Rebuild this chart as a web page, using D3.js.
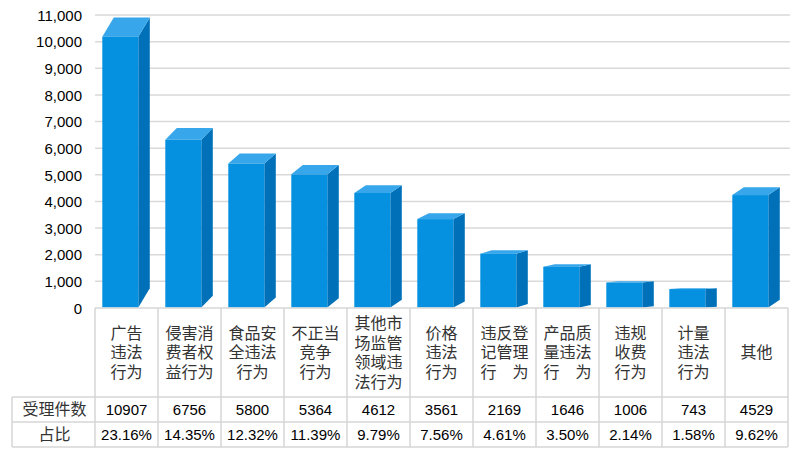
<!DOCTYPE html>
<html><head><meta charset="utf-8">
<script src="https://cdn.jsdelivr.net/npm/d3@7"></script>
<style>
html,body{margin:0;padding:0;background:#fff;}
svg{display:block;}
.cat{width:100%;height:100%;display:flex;align-items:center;justify-content:center;text-align:center;}
.cat span{font-family:'Noto Sans CJK SC','Noto Sans',sans-serif;font-size:16px;line-height:19.5px;color:#333;white-space:pre;}
</style></head>
<body>
<svg id="chart" width="800" height="458"></svg>
<script>
// ---- data ----
const categories = [
  ["广告","违法","行为"],
  ["侵害消","费者权","益行为"],
  ["食品安","全违法","行为"],
  ["不正当","竞争","行为"],
  ["其他市","场监管","领域违","法行为"],
  ["价格","违法","行为"],
  ["违反登","记管理","行　为"],
  ["产品质","量违法","行　为"],
  ["违规","收费","行为"],
  ["计量","违法","行为"],
  ["其他"]
];
const counts = [10907, 6756, 5800, 5364, 4612, 3561, 2169, 1646, 1006, 743, 4529];
const shares = ["23.16%","14.35%","12.32%","11.39%","9.79%","7.56%","4.61%","3.50%","2.14%","1.58%","9.62%"];
const rowLabels = ["受理件数", "占比"];
const yTicks = [0,1000,2000,3000,4000,5000,6000,7000,8000,9000,10000,11000];

// ---- layout ----
const svg = d3.select("#chart");
const plotL = 95, plotR = 790, plotT = 15, base = 308;
const rowA = 397, rowB = 422, rowC = 447, labelLeft = 12;
const cjk = "'Noto Sans CJK SC','Noto Sans',sans-serif";
const num = "'Liberation Sans',Arial,sans-serif";

const x = d3.scaleBand().domain(d3.range(categories.length)).range([plotL, plotR - 2]).paddingInner(0).paddingOuter(0);
const y = d3.scaleLinear().domain([0, 11000]).range([base, plotT]);
// front face of the 3D bars uses a slightly compressed scale (perspective)
const yFront = d3.scaleLinear().domain([0, 11000]).range([base - 0.5, base - 0.5 - (base - plotT) * 0.932]);

// gridlines
svg.append("g").selectAll("line").data(yTicks.filter(d => d > 0)).join("line")
  .attr("x1", plotL).attr("x2", plotR)
  .attr("y1", d => y(d)).attr("y2", d => y(d))
  .attr("stroke", "#d9d9d9").attr("stroke-width", 1.5);

// y axis labels
const yAxis = d3.axisLeft(y).tickValues(yTicks).tickFormat(d3.format(",")).tickSize(0).tickPadding(0);
const gy = svg.append("g").attr("transform", `translate(82,0)`).call(yAxis);
gy.select(".domain").remove();
gy.selectAll("text").attr("font-family", num).attr("font-size", 15).attr("fill", "#000").attr("dy", "0.35em");

// bars
const bw = x.bandwidth();
const frontOff = 7.3, frontW = 36, dx = 11.5;
const colFront = "#0590e0", colSide = "#0071b9", colTop = "#37a6ea";
const bars = svg.append("g").selectAll("g").data(counts).join("g");
bars.each(function(v, i) {
  const g = d3.select(this);
  const xl = x(i) + frontOff, xr = xl + frontW;
  const yt = yFront(v), yb = yFront(0);
  const dy = yt - y(v);
  g.append("polygon")
    .attr("points", [[xr, yt], [xr + dx, yt - dy], [xr + dx, yb - dy], [xr, yb]].join(" "))
    .attr("fill", colSide);
  g.append("polygon")
    .attr("points", [[xl, yt], [xl + dx, yt - dy], [xr + dx, yt - dy], [xr, yt]].join(" "))
    .attr("fill", colTop);
  g.append("rect").attr("x", xl).attr("y", yt).attr("width", frontW).attr("height", yb - yt)
    .attr("fill", colFront);
});

// table lines
const tl = svg.append("g").attr("stroke", "#d6d6d6").attr("stroke-width", 1.5);
tl.append("line").attr("x1", plotL).attr("x2", plotR - 2).attr("y1", base).attr("y2", base);
[rowA, rowB, rowC].forEach(yy => tl.append("line").attr("x1", labelLeft).attr("x2", plotR - 2).attr("y1", yy).attr("y2", yy));
tl.append("line").attr("x1", labelLeft).attr("x2", labelLeft).attr("y1", rowA).attr("y2", rowC);
d3.range(categories.length + 1).forEach(i => {
  const xx = i < categories.length ? x(i) : x(categories.length - 1) + bw;
  tl.append("line").attr("x1", xx).attr("x2", xx).attr("y1", base).attr("y2", rowC);
});

// category labels (one multi-line text block per cell)
const midY = 352, boxH = 84;
svg.append("g").selectAll("foreignObject").data(categories).join("foreignObject")
  .attr("x", (d, i) => x(i)).attr("y", midY - boxH / 2)
  .attr("width", bw).attr("height", boxH)
  .append("xhtml:div").attr("class", "cat")
  .append("xhtml:span")
  .text(lines => lines.join("\n"));

// row labels
svg.append("g").selectAll("text").data(rowLabels).join("text")
  .attr("x", (labelLeft + plotL) / 2 + 1).attr("y", (d, i) => i === 0 ? (rowA + rowB) / 2 : (rowB + rowC) / 2)
  .attr("dy", "0.35em").attr("text-anchor", "middle")
  .attr("font-family", cjk).attr("font-size", 16).attr("fill", "#333").text(d => d);

// counts row
svg.append("g").selectAll("text").data(counts).join("text")
  .attr("x", (d, i) => x(i) + bw / 2).attr("y", (rowA + rowB) / 2).attr("dy", "0.35em")
  .attr("text-anchor", "middle").attr("font-family", num).attr("font-size", 15).attr("fill", "#000")
  .text(d => d);

// shares row
svg.append("g").selectAll("text").data(shares).join("text")
  .attr("x", (d, i) => x(i) + bw / 2).attr("y", (rowB + rowC) / 2).attr("dy", "0.35em")
  .attr("text-anchor", "middle").attr("font-family", num).attr("font-size", 15).attr("fill", "#000")
  .text(d => d);
</script>
</body></html>
